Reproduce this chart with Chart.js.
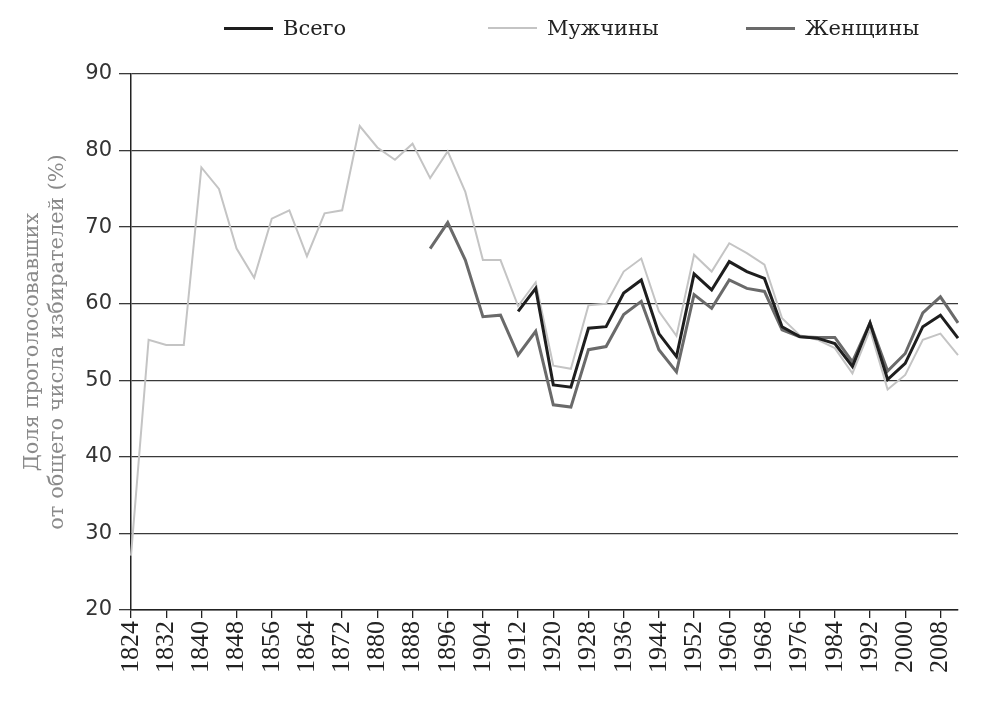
<!DOCTYPE html>
<html lang="ru">
<head>
<meta charset="utf-8">
<title>Явка избирателей</title>
<script src="https://cdn.jsdelivr.net/npm/chart.js@4/dist/chart.umd.min.js"></script>
<style>
    html, body { margin: 0; padding: 0; background: #fff; }
    #wrap { position: relative; width: 995px; height: 708px; }
    #legend { position: absolute; left: 0; top: 0; width: 995px; height: 60px; font-family: "DejaVu Serif", serif; font-size: 21px; color: #222; }
    .item { position: absolute; top: 14px; height: 28px; line-height: 28px; }
    .swatch { position: absolute; top: 13px; width: 49px; height: 0; }
    .label { position: absolute; white-space: nowrap; }
</style>
</head>
<body>
<div id="wrap">
    <canvas id="turnoutChart" width="995" height="708"></canvas>
    <div id="legend"></div>
</div>
<script>
// Years of elections, every 4 years
const years = [];
for (let y = 1824; y <= 2012; y += 4) years.push(String(y));

// Turnout values (%)
const menValues = [
    27.1, 55.3, 54.6, 54.6, 77.8, 75.0, 67.2, 63.4, 71.1, 72.2, 66.2, 71.8,
    72.2, 83.2, 80.4, 78.8, 80.9, 76.4, 79.9, 74.6, 65.7, 65.7, 59.7, 62.8,
    51.9, 51.5, 59.8, 60.0, 64.2, 65.9, 59.0, 55.8, 66.4, 64.2, 67.9, 66.6,
    65.1, 58.1, 55.9, 55.3, 54.2, 50.9, 56.6, 48.8, 50.7, 55.3, 56.1, 53.3
];
const totalValues = [
    null, null, null, null, null, null, null, null, null, null, null, null,
    null, null, null, null, null, null, null, null, null, null, 59.0, 62.0,
    49.4, 49.1, 56.8, 57.0, 61.4, 63.1, 56.1, 53.1, 63.9, 61.8, 65.5, 64.2,
    63.3, 57.0, 55.7, 55.5, 54.8, 51.8, 57.5, 50.1, 52.2, 57.0, 58.5, 55.5
];
const womenValues = [
    null, null, null, null, null, null, null, null, null, null, null, null,
    null, null, null, null, null, 67.2, 70.6, 65.7, 58.3, 58.5, 53.3, 56.4,
    46.8, 46.5, 54.0, 54.4, 58.6, 60.3, 54.0, 51.1, 61.2, 59.4, 63.1, 62.0,
    61.6, 56.6, 55.7, 55.6, 55.6, 52.4, 57.5, 51.2, 53.5, 58.8, 60.9, 57.5
];

const seriesNames = ['Всего', 'Мужчины', 'Женщины'];
const seriesColors = ['#1e1e1e', '#c4c4c4', '#6a6a6a'];
const seriesWidths = [3, 2, 3];

const yTitle = ['Доля проголосовавших', 'от общего числа избирателей (%)'];

// Legend (HTML so items can sit where they are in the original)
const legendPos = [224, 488, 746];
const legend = document.getElementById('legend');
seriesNames.forEach(function(name, i) {
    const item = document.createElement('div');
    item.className = 'item';
    item.style.left = legendPos[i] + 'px';
    const sw = document.createElement('div');
    sw.className = 'swatch';
    sw.style.borderTop = seriesWidths[i] + 'px solid ' + seriesColors[i];
    const lb = document.createElement('span');
    lb.className = 'label';
    lb.style.left = '59px';
    lb.textContent = name;
    item.appendChild(sw);
    item.appendChild(lb);
    legend.appendChild(item);
});

const ctx = document.getElementById('turnoutChart');
new Chart(ctx, {
    type: 'line',
    data: {
        labels: years,
        datasets: [
            {
                label: seriesNames[1],
                data: menValues,
                borderColor: seriesColors[1],
                borderWidth: seriesWidths[1],
                pointRadius: 0,
                tension: 0,
                order: 3
            },
            {
                label: seriesNames[2],
                data: womenValues,
                borderColor: seriesColors[2],
                borderWidth: seriesWidths[2],
                pointRadius: 0,
                tension: 0,
                order: 2
            },
            {
                label: seriesNames[0],
                data: totalValues,
                borderColor: seriesColors[0],
                borderWidth: seriesWidths[0],
                pointRadius: 0,
                tension: 0,
                order: 1
            }
        ]
    },
    options: {
        responsive: false,
        animation: false,
        layout: {
            padding: { left: 0, right: 37, top: 74, bottom: 0 }
        },
        plugins: {
            legend: { display: false },
            tooltip: { enabled: false }
        },
        scales: {
            x: {
                offset: false,
                grid: {
                    drawOnChartArea: false,
                    drawTicks: true,
                    tickLength: 8,
                    color: '#222',
                    lineWidth: 1.3
                },
                border: { color: '#222', width: 1.5 },
                ticks: {
                    autoSkip: false,
                    maxRotation: 90,
                    minRotation: 90,
                    padding: 3,
                    color: '#222',
                    font: { family: 'Liberation Serif', size: 26 },
                    callback: function(value, index) {
                        return index % 2 === 0 ? this.getLabelForValue(value) : null;
                    }
                },
                afterFit: function(scale) {
                    scale.height = 98;
                }
            },
            y: {
                min: 20,
                max: 90,
                grid: {
                    color: '#3a3a3a',
                    lineWidth: 1.3,
                    tickLength: 12
                },
                border: { color: '#222', width: 1.5 },
                ticks: {
                    stepSize: 10,
                    padding: 7,
                    color: '#333',
                    font: { family: 'DejaVu Sans', size: 21 }
                },
                title: {
                    display: true,
                    text: yTitle,
                    color: '#8a8a8a',
                    padding: { top: 20, bottom: 0 },
                    font: { family: 'DejaVu Serif', size: 21, lineHeight: 1.2 }
                },
                afterFit: function(scale) {
                    scale.width = 131;
                }
            }
        }
    }
});
</script>
</body>
</html>
